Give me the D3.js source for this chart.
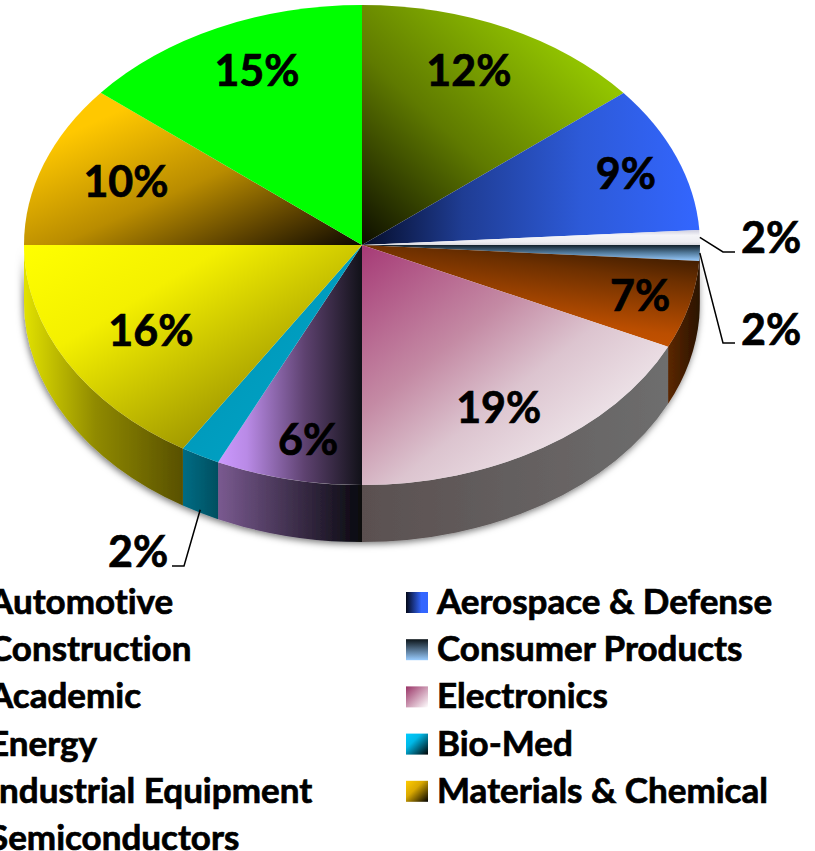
<!DOCTYPE html>
<html>
<head>
<meta charset="utf-8">
<script src="https://cdnjs.cloudflare.com/ajax/libs/d3/7.8.5/d3.min.js"></script>
<style>
    html, body { margin: 0; padding: 0; background: #fff; overflow: hidden; }
    svg { display: block; font-family: Lato, sans-serif; font-weight: 700; font-variant-ligatures: none; }
    /* Lato bold is a bit lighter than the original face */
    text { fill: #000; stroke: #000; stroke-width: 0.7px; }
</style>
</head>
<body>
<div id="chart"></div>
<script>
// in drawing order, clockwise from 12 o'clock
const sectors = ['Automotive', 'Aerospace & Defense', 'Construction', 'Consumer Products', 'Academic',
    'Electronics', 'Energy', 'Bio-Med', 'Industrial Equipment', 'Materials & Chemical', 'Semiconductors'];
// printed labels
const percents = [12, 9, 2, 2, 7, 19, 6, 2, 16, 10, 15];
// sweep of each slice as measured on the picture (degrees). they don't follow the printed
// percents exactly, the original is a 3D chart and its slices are distorted
const sweeps = [50.7, 35.7, 3.6, 3.8, 21.3, 64.9, 25.2, 6.8, 58, 39.4, 50.6];

const legendLeft = ['Automotive', 'Construction', 'Academic', 'Energy', 'Industrial Equipment', 'Semiconductors'];
const legendRight = ['Aerospace & Defense', 'Consumer Products', 'Electronics', 'Bio-Med', 'Materials & Chemical'];

const width = 815, height = 851;
const cx = 362, cy = 245, rx = 338, ry = 240, depth = 57;

// [x1, y1, x2, y2, [offset, colour]...] in bounding box units
const topFills = {
    'Automotive': [0, 1, 0.8, 0.2, [0, '#0c0c00'], [0.5, '#5f7a00'], [1, '#92c400']],
    'Aerospace & Defense': [0, 0, 1, 0, [0, '#050c28'], [0.3, '#1f3d94'], [0.65, '#2d5ad8'], [1, '#3366ff']],
    'Construction': [0, 0, 0, 1, [0, '#ccccdd'], [0.35, '#f4f4f8'], [0.8, '#eeeef2'], [1, '#d8d8de']],
    'Consumer Products': [0, 0, 0, 1, [0, '#12202a'], [0.45, '#4d7494'], [1, '#99ccff']],
    'Academic': [0.5, 1, 0.9, 0, [0, '#cc5500'], [0.25, '#bb4e00'], [0.7, '#6e3000'], [1, '#2e1500']],
    'Electronics': [0, 0, 1, 1, [0, '#a63a76'], [0.35, '#c48aa4'], [0.55, '#dcc4cf'], [0.8, '#f0e8ec'], [1, '#f8f6f7']],
    'Energy': [0, 0, 1, 0, [0, '#cc99ff'], [0.2, '#b98ae6'], [0.6, '#5e4270'], [1, '#111118']],
    'Bio-Med': [0, 0, 1, 1, [0, '#0090b0'], [1, '#00a8cc']],
    'Industrial Equipment': [0, 0, 1, 1, [0, '#ffff00'], [0.3, '#f4f000'], [0.75, '#a09800'], [1, '#6e6600']],
    'Materials & Chemical': [0, 0, 1, 1, [0.2, '#ffc800'], [0.55, '#b98c00'], [0.8, '#5a4000'], [1, '#0c0800']],
    'Semiconductors': [0, 0, 1, 0, [0, '#00ff00'], [1, '#00ff00']]
};
const wallFills = {
    'Consumer Products': [0, 0, 1, 0, [0, '#2a1200'], [1, '#2a1200']],
    'Academic': [0, 0, 1, 0, [0, '#5c2800'], [1, '#2a1200']],
    'Electronics': [0, 0, 1, 0, [0, '#5a5050'], [1, '#6e6e6e']],
    'Energy': [0, 0, 1, 0, [0, '#7a5a90'], [1, '#08080e']],
    'Bio-Med': [0, 0, 1, 0, [0, '#006c84'], [1, '#004f60']],
    'Industrial Equipment': [0, 0, 1, 0, [0, '#e2e200'], [0.45, '#908a00'], [1, '#585000']]
};
const swatchFills = {
    'Aerospace & Defense': [0, 0, 1, 0, [0, '#030818'], [0.7, '#3366ff'], [1, '#3366ff']],
    'Consumer Products': [0, 0, 0, 1, [0, '#0c1418'], [1, '#99ccff']],
    'Electronics': [0, 0, 1, 1, [0, '#993366'], [1, '#ffffff']],
    'Bio-Med': [0, 0, 1, 1, [0, '#00ccff'], [0.35, '#00b8e6'], [1, '#000000']],
    'Materials & Chemical': [0, 0, 1, 1, [0, '#ffcc00'], [0.4, '#d9a800'], [1, '#000000']]
};

// where the percent sits in each slice: share of the radius, degrees off the slice's middle
const labelRadial = [0.79, 0.835, 0, 0, 0.85, 0.79, 0.828, 0, 0.72, 0.746, 0.789];
const labelTurn = [-1.75, 0.7, 0, 0, 0, 1.65, -1.5, 0, -0.8, 0.9, 2.1];
// the small slices get an elbow line to a label outside the pie
const callouts = {
    'Construction': { elbow: [723, 252], end: [735, 252], text: [741, 253], wall: false },
    'Consumer Products': { elbow: [723, 343], end: [735, 343], text: [741, 345], wall: false },
    'Bio-Med': { elbow: [184, 566], end: [172, 566], text: [108, 567], wall: true }
};

const svg = d3.select('#chart').append('svg')
    .attr('width', width)
    .attr('height', height);

const defs = svg.append('defs');

function addGradient(id, spec) {
    const g = defs.append('linearGradient')
        .attr('id', id)
        .attr('x1', spec[0]).attr('y1', spec[1])
        .attr('x2', spec[2]).attr('y2', spec[3]);
    spec.slice(4).forEach(function(s) {
        g.append('stop').attr('offset', s[0]).attr('stop-color', s[1]);
    });
    return 'url(#' + id + ')';
}

defs.append('filter')
    .attr('id', 'rim-shadow')
    .attr('x', '-5%').attr('y', '-5%').attr('width', '110%').attr('height', '115%')
    .append('feDropShadow')
    .attr('dx', -1).attr('dy', 2)
    .attr('stdDeviation', 3.5)
    .attr('flood-color', '#000')
    .attr('flood-opacity', 0.55);

const pie = d3.pie().sort(null).value(function(d, i) { return sweeps[i]; });
const slices = pie(sectors);

// point on the rim of the top face
function rim(a) {
    return [rx * Math.sin(a), -ry * Math.cos(a)];
}

// the side wall only shows on the front half
function wallPath(a0, a1) {
    const p0 = rim(a0), p1 = rim(a1);
    const large = (a1 - a0) > Math.PI ? 1 : 0;
    return 'M' + p0 + 'A' + rx + ',' + ry + ' 0 ' + large + ' 1 ' + p1 +
        'L' + [p1[0], p1[1] + depth] +
        'A' + rx + ',' + ry + ' 0 ' + large + ' 0 ' + [p0[0], p0[1] + depth] + 'Z';
}

function labelPoint(d) {
    const a = (d.startAngle + d.endAngle) / 2 + labelTurn[d.index] * Math.PI / 180;
    const p = rim(a);
    return [p[0] * labelRadial[d.index], p[1] * labelRadial[d.index]];
}

const pieG = svg.append('g').attr('transform', 'translate(' + cx + ',' + cy + ')');

pieG.append('g')
    .attr('class', 'walls')
    .attr('filter', 'url(#rim-shadow)')
    .selectAll('path')
    .data(slices.filter(function(d) { return wallFills[d.data]; }))
    .enter().append('path')
    .attr('d', function(d) {
        return wallPath(Math.max(d.startAngle, Math.PI / 2), Math.min(d.endAngle, Math.PI * 1.5));
    })
    .attr('fill', function(d) { return addGradient('wall-' + d.index, wallFills[d.data]); });

// top face is a circle squashed into the ellipse
const arc = d3.arc().innerRadius(0).outerRadius(rx);

pieG.append('g')
    .attr('class', 'faces')
    .attr('transform', 'scale(1,' + (ry / rx) + ')')
    .selectAll('path')
    .data(slices)
    .enter().append('path')
    .attr('d', arc)
    .attr('fill', function(d) { return addGradient('top-' + d.index, topFills[d.data]); });

// percent labels inside the slices
pieG.append('g')
    .attr('class', 'labels')
    .attr('font-size', 43)
    .attr('text-anchor', 'middle')
    .selectAll('text')
    .data(slices.filter(function(d) { return labelRadial[d.index] > 0; }))
    .enter().append('text')
    .attr('x', function(d) { return labelPoint(d)[0]; })
    .attr('y', function(d) { return labelPoint(d)[1]; })
    .attr('dy', '0.35em')
    .text(function(d) { return percents[d.index] + '%'; });

// callouts
const outer = svg.append('g').attr('class', 'callouts');
slices.filter(function(d) { return callouts[d.data]; }).forEach(function(d) {
    const c = callouts[d.data];
    const p = rim((d.startAngle + d.endAngle) / 2);
    const start = [cx + p[0], cy + p[1] + (c.wall ? depth - 3 : 0)];
    outer.append('path')
        .attr('d', d3.line()([start, c.elbow, c.end]))
        .attr('fill', 'none')
        .attr('stroke', '#000')
        .attr('stroke-width', 1.5);
    outer.append('text')
        .attr('x', c.text[0])
        .attr('y', c.text[1])
        .attr('font-size', 43)
        .text(percents[d.index] + '%');
});

// legend
const rowY = d3.scaleLinear().domain([0, 1]).range([614, 661.2]);
const legend = svg.append('g').attr('class', 'legend').attr('font-size', 35);

function legendColumn(names, swatchX, textX) {
    const row = legend.append('g').selectAll('g')
        .data(names)
        .enter().append('g');
    row.filter(function(d) { return swatchFills[d]; })
        .append('rect')
        .attr('x', swatchX)
        .attr('y', function(d, i) { return rowY(i) - 22; })
        .attr('width', 22)
        .attr('height', 21)
        .attr('fill', function(d, i) { return addGradient('swatch-' + i, swatchFills[d]); });
    row.append('text')
        .attr('x', textX)
        .attr('y', function(d, i) { return rowY(i); })
        .text(function(d) { return d; });
}

// left column runs off the page, like in the original
legendColumn(legendLeft, -42, -11);
legendColumn(legendRight, 406, 437);
</script>
</body>
</html>
